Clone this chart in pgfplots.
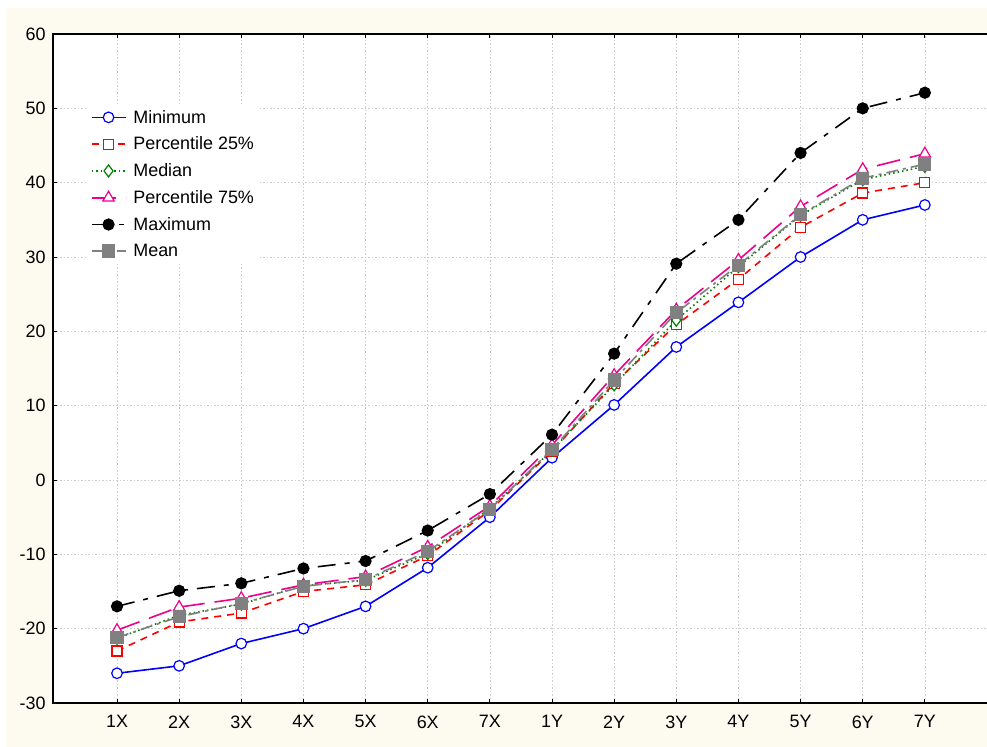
\documentclass[border=0pt]{standalone}
\usepackage{fontspec}
\setmainfont{Liberation Sans}
\usepackage{pgfplots}
\pgfplotsset{compat=1.18}
\definecolor{cream}{RGB}{253,250,240}
\definecolor{dgreen}{RGB}{0,128,0}
\definecolor{mgray}{RGB}{128,128,128}
\begin{document}
\begin{tikzpicture}
\useasboundingbox (0,0) rectangle (987bp,747bp);
\fill[white] (0,0) rectangle (987bp,747bp);
\fill[cream] (6bp,0) rectangle (987bp,739bp);
\begin{axis}[
  at={(53bp,44bp)}, anchor=south west,
  scale only axis, width=934bp, height=669bp,
  xmin=-1.03, xmax=14.0, ymin=-30, ymax=60,
  xtick={0,...,13},
  xticklabels={1X,2X,3X,4X,5X,6X,7X,1Y,2Y,3Y,4Y,5Y,6Y,7Y},
  ytick={-30,-20,...,60},
  xtick pos=both, ytick pos=left,
  tick align=inside, major tick length=4bp,
  tick style={black, line width=0.8bp},
  axis line style={draw=none},
  axis background/.style={fill=white},
  grid=major,
  major grid style={dash pattern=on 1.5bp off 2bp, gray!40, line width=0.7bp},
  /pgf/number format/assume math mode=true,
  ticklabel style={font=\fontsize{18}{20}\selectfont},
  xticklabel style={yshift=-9bp},
  yticklabel style={xshift=-4bp},
  clip=false,
  legend style={at={(0.037,0.894)}, anchor=north west, draw=none, fill=white,
    font=\fontsize{18}{20}\selectfont, row sep=6.3bp,
    nodes={inner sep=3bp},
    /tikz/every odd column/.append style={column sep=4bp}},
  legend cell align=left,
  legend image code/.code={\draw[mark repeat=2,mark phase=2] plot coordinates {(0bp,0bp) (17bp,0bp) (34bp,0bp)};},
  every axis plot/.append style={line width=1.6bp},
]
\addplot[blue, solid, mark=*, mark size=5.3bp, mark options={solid, fill=white, line width=1.2bp}] coordinates {
(0,-26.0) (1,-25.0) (2,-22.0) (3,-20.0) (4,-17.0) (5,-11.8) (6,-5.0)
(7,3.0) (8,10.1) (9,17.9) (10,23.9) (11,30.0) (12,35.0) (13,37.0)};
\addlegendentry{Minimum}
\addplot[red, dash pattern=on 7bp off 6bp, mark=square*, mark size=5bp, mark options={solid, fill=white, line width=1.2bp}] coordinates {
(0,-23.0) (1,-19.1) (2,-17.9) (3,-15.0) (4,-14.1) (5,-10.2) (6,-4.1)
(7,3.9) (8,13.0) (9,20.9) (10,27.0) (11,34.0) (12,38.6) (13,40.0)};
\addlegendentry{Percentile 25\%}
\addplot[dgreen, dash pattern=on 1.5bp off 3bp, mark=diamond*, mark size=6bp, mark options={solid, fill=white, line width=1.2bp}] coordinates {
(0,-21.3) (1,-18.2) (2,-16.7) (3,-14.2) (4,-13.5) (5,-9.9) (6,-3.8)
(7,4.0) (8,12.8) (9,21.5) (10,28.7) (11,35.6) (12,40.4) (13,42.2)};
\addlegendentry{Median}
\addplot[magenta, dash pattern=on 24bp off 10bp, mark=triangle*, mark size=6.5bp, mark options={solid, fill=white, line width=1.2bp}] coordinates {
(0,-20.2) (1,-17.1) (2,-15.9) (3,-14.1) (4,-13.0) (5,-9.0) (6,-3.5)
(7,4.7) (8,14.1) (9,22.9) (10,29.6) (11,36.8) (12,41.8) (13,43.9)};
\addlegendentry{Percentile 75\%}
\addplot[black, dash pattern=on 18bp off 9bp on 5bp off 9bp, mark=*, mark size=5.3bp, mark options={solid}] coordinates {
(0,-17.0) (1,-14.9) (2,-13.9) (3,-11.9) (4,-10.9) (5,-6.8) (6,-1.9)
(7,6.1) (8,17.0) (9,29.1) (10,35.0) (11,44.0) (12,50.0) (13,52.1)};
\addlegendentry{Maximum}
\addplot[mgray, dash pattern=on 12bp off 5bp on 3bp off 5bp, mark=square*, mark size=5.8bp, mark options={solid}] coordinates {
(0,-21.2) (1,-18.4) (2,-16.6) (3,-14.3) (4,-13.4) (5,-9.6) (6,-3.95)
(7,4.1) (8,13.45) (9,22.5) (10,28.9) (11,35.7) (12,40.6) (13,42.5)};
\addlegendentry{Mean}
\draw[black, line width=1.6bp] (rel axis cs:1,1) -- (rel axis cs:0,1) -- (rel axis cs:0,0) -- (rel axis cs:1,0);
\end{axis}
\end{tikzpicture}
\end{document}
